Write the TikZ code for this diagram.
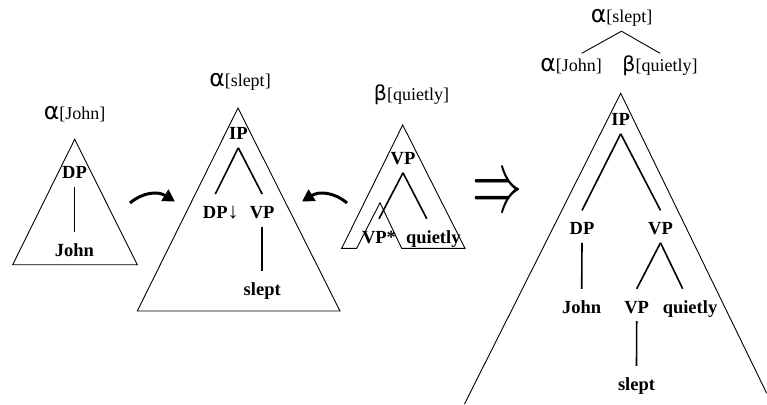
\documentclass[tikz,border=0pt]{standalone}
\usepackage{fontspec}
\usepackage{graphicx}
\setmainfont{Liberation Serif}
\newfontfamily\greekfont{DejaVu Sans}
\usetikzlibrary{arrows.meta}

% tree annotation labels: Greek letter followed by the lexical anchor
\newcommand\treealpha[1]{{\greekfont\fontsize{23.5}{23.5}\selectfont α}[#1]}
\newcommand\treebeta[1]{{\greekfont\fontsize{20.5}{20.5}\selectfont β}[#1]}

\tikzset{
  tri/.style={draw, line width=0.9pt, line join=miter},
  branch/.style={line width=1.6pt},
  cat/.style={anchor=base, font=\fontsize{18.5}{20}\selectfont\bfseries,
    text height=17pt, text depth=1pt, inner ysep=7pt, inner xsep=0pt},
  elem/.style={anchor=base, font=\fontsize{18}{20}\selectfont,
    text height=12pt, text depth=2pt, inner ysep=6pt, inner xsep=0pt},
  derivedge/.style={line width=0.9pt},
  move/.style={line width=3pt, -{Triangle[length=12pt,width=13pt]}},
}

\begin{document}
\begin{tikzpicture}[x=1pt,y=-1pt]
\useasboundingbox (0,0) rectangle (767,404);

% ---- initial tree alpha[John]
\node[elem] (aJohn) at (74.7,119.3) {\treealpha{John}};
\draw[tri] (12.7,264.7) -- (74.7,139.3) -- (137.3,264.7) -- cycle;
\node[cat] (j-dp) at (74.5,178.3) {DP};
\node[cat] (j-john) at (74.5,256.5) {John};
\draw[branch] (j-dp.south) -- (j-john.north);

% ---- initial tree alpha[slept]
\node[elem] (aSlept) at (240,86.5) {\treealpha{slept}};
\draw[tri] (137.3,311) -- (238,108) -- (340,311) -- cycle;
\node[cat] (s-ip) at (238.3,139.6) {IP};
\node[cat] (s-dp) at (215.3,218.3) {DP\rlap{\normalfont\fontsize{22}{22}\selectfont ↓}};
\node[cat] (s-vp) at (262.2,218.3) {VP};
\node[cat] (s-slept) at (262.2,295) {slept};
\draw[branch] (s-ip.south) -- (s-dp.north);
\draw[branch] (s-ip.south) -- (s-vp.north);
\draw[branch] (s-vp.south) -- (s-slept.north);

% ---- auxiliary tree beta[quietly] with foot node
\node[elem] (bQuietly) at (411.5,100) {\treebeta{quietly}};
\draw[tri] (341.7,248.3) -- (402.7,125) -- (465,248.3) -- (401.7,248.3)
  -- (380,202.7) -- (356.7,248.3) -- cycle;
\node[cat] (q-vp) at (403,164.6) {VP};
\node[cat] (q-foot) at (379,243) {VP*};
\node[cat] (q-adv) at (433.3,243) {quietly};
\draw[branch] (q-vp.south) -- (q-foot.north);
\draw[branch] (q-vp.south) -- ([xshift=-6.5pt]q-adv.north);

% ---- substitution and adjunction arrows
\coordinate (subFrom) at (130,203);
\coordinate (subTo) at (175,201.5);
\coordinate (adjFrom) at (347,203);
\coordinate (adjTo) at (302,201.5);
\draw[move] (subFrom) .. controls (143,192) and (158,191) .. (subTo);
\draw[move] (adjFrom) .. controls (334,192) and (319,191) .. (adjTo);

% ---- derives
\node[inner sep=0pt] (derives) at (497.2,195)
  {\resizebox{50pt}{32pt}{$\Rightarrow$}};

% ---- derivation tree
\node[elem] (dRoot) at (621.5,23) {\treealpha{slept}};
\node[elem] (dJohn) at (571,71.5) {\treealpha{John}};
\node[elem] (dQuietly) at (660,71.5) {\treebeta{quietly}};
\draw[derivedge] (dRoot.south) -- ([xshift=10.7pt]dJohn.north);
\draw[derivedge] (dRoot.south) -- (dQuietly.north);

% ---- derived tree
\draw[tri] (464.5,404) -- (620.7,93.3) -- (766.7,393.3);
\node[cat] (d-ip) at (620.7,125.6) {IP};
\node[cat] (d-dp) at (582,234.6) {DP};
\node[cat] (d-vp) at (660.5,234.6) {VP};
\node[cat] (d-john) at (581.7,313) {John};
\node[cat] (d-vp2) at (636.7,313) {VP};
\node[cat] (d-adv) at (690,313) {quietly};
\node[cat] (d-slept) at (636.5,390) {slept};
\draw[branch] (d-ip.south) -- (d-dp.north);
\draw[branch] (d-ip.south) -- (d-vp.north);
\draw[branch] (d-dp.south) -- (d-john.north);
\draw[branch] (d-vp.south) -- (d-vp2.north);
\draw[branch] (d-vp.south) -- ([xshift=-7.3pt]d-adv.north);
\draw[branch] (d-vp2.south) -- (d-slept.north);
\end{tikzpicture}
\end{document}
